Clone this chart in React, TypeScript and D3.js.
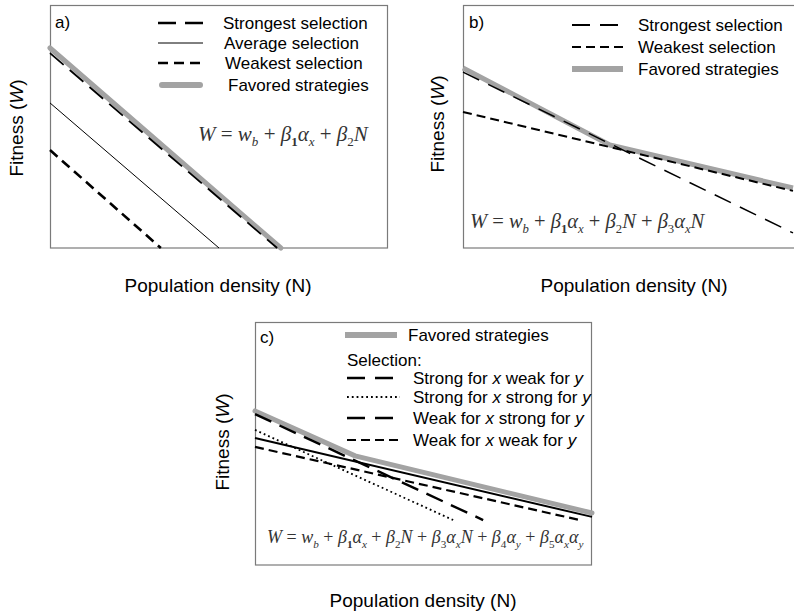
import React from "react";
import * as d3 from "d3";

// ---------- data (normalised units: N 0..100, W 0..100) ----------
const panelANames = ["Strongest selection", "Average selection", "Weakest selection", "Favored strategies"];
const aStrongest: [number, number][] = [[0, 80.2], [67.2, 0]];
const aAverage: [number, number][] = [[0, 59.7], [50, 0]];
const aWeakest: [number, number][] = [[0, 40.3], [32.8, 0]];
const aFavored: [number, number][] = [[0, 82.3], [68.3, 0]];

const panelBNames = ["Strongest selection", "Weakest selection", "Favored strategies"];
const bStrongest: [number, number][] = [[0, 72.4], [100, 6.2]];
const bWeakest: [number, number][] = [[0, 56], [100, 23.5]];
const bFavored: [number, number][] = [[0, 74.1], [44.5, 42.4], [100, 24.7]];

const panelCNames = ["Favored strategies", "Selection:", "Strong for x weak for y", "Strong for x strong for y", "Weak for x strong for y", "Weak for x weak for y"];
const cFavored: [number, number][] = [[0, 63.4], [29.7, 44.9], [100, 21.4]];
const cSolid: [number, number][] = [[0, 52.3], [100, 19.8]];
const cLongDash: [number, number][] = [[0, 62.1], [67.7, 18.5]];
const cDotted: [number, number][] = [[0, 55.6], [58.8, 18.5]];
const cShortDash: [number, number][] = [[0, 48.6], [96.4, 18.5]];

const xLabel = "Population density (N)";

type Tok = { t: string; i?: boolean; sub?: boolean; b?: boolean };
const formulaA: Tok[] = [
  { t: "W", i: true }, { t: " = " }, { t: "w", i: true }, { t: "b", i: true, sub: true }, { t: " + " },
  { t: "β", i: true }, { t: "1", sub: true, b: true }, { t: "α", i: true }, { t: "x", i: true, sub: true }, { t: " + " },
  { t: "β", i: true }, { t: "2", sub: true }, { t: "N", i: true },
];
const formulaB: Tok[] = [
  ...formulaA,
  { t: " + " }, { t: "β", i: true }, { t: "3", sub: true }, { t: "α", i: true }, { t: "x", i: true, sub: true }, { t: "N", i: true },
];
const formulaC: Tok[] = [
  ...formulaB,
  { t: " + " }, { t: "β", i: true }, { t: "4", sub: true }, { t: "α", i: true }, { t: "y", i: true, sub: true },
  { t: " + " }, { t: "β", i: true }, { t: "5", sub: true }, { t: "α", i: true }, { t: "x", i: true, sub: true }, { t: "α", i: true }, { t: "y", i: true, sub: true },
];

const GRAY = "#a3a3a3";
const SANS = "Arial, 'Liberation Sans', Helvetica, sans-serif";
const SERIF = "'Times New Roman', 'Liberation Serif', serif";

function Formula({ x, y, toks, size }: { x: number; y: number; toks: Tok[]; size: number }) {
  let shifted = false;
  const off = size * 0.25;
  return (
    <text x={x} y={y} fontFamily={SERIF} fontSize={size} fill="#333">
      {toks.map((tk, k) => {
        let dy = 0;
        if (tk.sub && !shifted) { dy = off; shifted = true; }
        else if (!tk.sub && shifted) { dy = -off; shifted = false; }
        return (
          <tspan key={k} dy={dy} fontStyle={tk.i ? "italic" : "normal"} fontWeight={tk.b ? "bold" : "normal"}
            fontSize={tk.sub ? size * 0.62 : size} style={{ whiteSpace: "pre" }}>
            {tk.t}
          </tspan>
        );
      })}
    </text>
  );
}

function YLabel({ x, y }: { x: number; y: number }) {
  return (
    <text transform={`translate(${x},${y}) rotate(-90)`} textAnchor="middle" dominantBaseline="central"
      fontFamily={SANS} fontSize={19} fill="#000">
      Fitness (<tspan fontStyle="italic">W</tspan>)
    </text>
  );
}

function XLabel({ x, y }: { x: number; y: number }) {
  return (
    <text x={x} y={y} textAnchor="middle" dominantBaseline="central" fontFamily={SANS} fontSize={19} fill="#000">
      {xLabel}
    </text>
  );
}

function makeLine(x0: number, x1: number, yb: number, yt: number) {
  const xs = d3.scaleLinear().domain([0, 100]).range([x0, x1]);
  const ys = d3.scaleLinear().domain([0, 100]).range([yb, yt]);
  return d3.line<[number, number]>().x((d) => xs(d[0])).y((d) => ys(d[1]));
}

function LegendText({ x, y, children }: { x: number; y: number; children: React.ReactNode }) {
  return (
    <text x={x} y={y} dominantBaseline="central" fontFamily={SANS} fontSize={17} fill="#000" style={{ whiteSpace: "pre" }}>
      {children}
    </text>
  );
}

function italicXY(s: string) {
  const parts = s.split(/( x | y$)/);
  return parts.map((p, k) => {
    if (p === " x ") return <tspan key={k}> <tspan fontStyle="italic">x</tspan> </tspan>;
    if (p === " y") return <tspan key={k}> <tspan fontStyle="italic">y</tspan></tspan>;
    return <tspan key={k}>{p}</tspan>;
  });
}

export default function App() {
  const la = makeLine(50, 388, 248, 5);
  const lb = makeLine(463, 793, 248, 5);
  const lc = makeLine(255, 592, 565, 322);
  const box = "#7a7a7a";

  const longDash = "18,8";
  const shortDash = "10,6";

  return (
    <svg width={794} height={613} style={{ position: "absolute", left: 0, top: 0, background: "#fff" }}>
      <rect x={0} y={0} width={794} height={613} fill="#fff" />

      {/* ---------- Panel a ---------- */}
      <rect x={50.5} y={5.5} width={337} height={242.5} fill="none" stroke={box} strokeWidth={1.2} />
      <path d={la(aWeakest) || ""} fill="none" stroke="#000" strokeWidth={2.6} strokeDasharray={shortDash} />
      <path d={la(aAverage) || ""} fill="none" stroke="#000" strokeWidth={1} />
      <path d={la(aFavored) || ""} fill="none" stroke={GRAY} strokeWidth={5} strokeLinecap="round" />
      <path d={la(aStrongest) || ""} fill="none" stroke="#000" strokeWidth={1.8} strokeDasharray={longDash} />
      <text x={55} y={22} dominantBaseline="central" fontFamily={SANS} fontSize={17}>a)</text>
      <line x1={158} x2={203} y1={23} y2={23} stroke="#000" strokeWidth={2.6} strokeDasharray="18,9" />
      <line x1={158} x2={203} y1={43} y2={43} stroke="#000" strokeWidth={1} />
      <line x1={158} x2={203} y1={63} y2={63} stroke="#000" strokeWidth={2.6} strokeDasharray="10,6" />
      <line x1={162} x2={200} y1={85} y2={85} stroke={GRAY} strokeWidth={6} strokeLinecap="round" />
      <LegendText x={223} y={23}>{panelANames[0]}</LegendText>
      <LegendText x={224} y={43}>{panelANames[1]}</LegendText>
      <LegendText x={225} y={63}>{panelANames[2]}</LegendText>
      <LegendText x={228} y={85}>{panelANames[3]}</LegendText>
      <Formula x={198} y={141} toks={formulaA} size={21} />
      <YLabel x={16} y={128} />
      <XLabel x={218} y={285} />

      {/* ---------- Panel b ---------- */}
      <rect x={463.5} y={5.5} width={340} height={242.5} fill="none" stroke={box} strokeWidth={1.2} />
      <path d={lb(bFavored) || ""} fill="none" stroke={GRAY} strokeWidth={5} strokeLinejoin="round" />
      <path d={lb(bStrongest) || ""} fill="none" stroke="#000" strokeWidth={1.5} strokeDasharray="18,10" />
      <path d={lb(bWeakest) || ""} fill="none" stroke="#000" strokeWidth={2} strokeDasharray="9,5" />
      <text x={469} y={22} dominantBaseline="central" fontFamily={SANS} fontSize={17}>b)</text>
      <line x1={572} x2={618} y1={25} y2={25} stroke="#000" strokeWidth={2} strokeDasharray="18,10" />
      <line x1={572} x2={623} y1={47} y2={47} stroke="#000" strokeWidth={2.2} strokeDasharray="9,5" />
      <line x1={572} x2={623} y1={69} y2={69} stroke={GRAY} strokeWidth={6} />
      <LegendText x={638} y={25}>{panelBNames[0]}</LegendText>
      <LegendText x={638} y={47}>{panelBNames[1]}</LegendText>
      <LegendText x={638} y={69}>{panelBNames[2]}</LegendText>
      <Formula x={470} y={228} toks={formulaB} size={20.5} />
      <YLabel x={437} y={124} />
      <XLabel x={634} y={285} />

      {/* ---------- Panel c ---------- */}
      <rect x={255.5} y={322.5} width={336} height={242.5} fill="none" stroke={box} strokeWidth={1.2} />
      <path d={lc(cFavored) || ""} fill="none" stroke={GRAY} strokeWidth={5} strokeLinejoin="round" strokeLinecap="round" />
      <path d={lc(cSolid) || ""} fill="none" stroke="#000" strokeWidth={2} />
      <path d={lc(cDotted) || ""} fill="none" stroke="#000" strokeWidth={1.8} strokeDasharray="1.8,3" />
      <path d={lc(cShortDash) || ""} fill="none" stroke="#000" strokeWidth={2.2} strokeDasharray="9,5" />
      <path d={lc(cLongDash) || ""} fill="none" stroke="#000" strokeWidth={2.4} strokeDasharray="18,9" />
      <text x={260} y={337} dominantBaseline="central" fontFamily={SANS} fontSize={17}>c)</text>
      <line x1={345} x2={397} y1={335} y2={335} stroke={GRAY} strokeWidth={6} />
      <LegendText x={408} y={335}>{panelCNames[0]}</LegendText>
      <LegendText x={347} y={360}>{panelCNames[1]}</LegendText>
      <line x1={347} x2={393} y1={378} y2={378} stroke="#000" strokeWidth={2.4} strokeDasharray="18,10" />
      <line x1={347} x2={400} y1={397} y2={397} stroke="#000" strokeWidth={1.8} strokeDasharray="1.8,3" />
      <line x1={347} x2={393} y1={418} y2={418} stroke="#000" strokeWidth={2.4} strokeDasharray="18,10" />
      <line x1={347} x2={400} y1={440} y2={440} stroke="#000" strokeWidth={2.2} strokeDasharray="9,5" />
      <LegendText x={413} y={378}>{italicXY(panelCNames[2])}</LegendText>
      <LegendText x={413} y={397}>{italicXY(panelCNames[3])}</LegendText>
      <LegendText x={413} y={418}>{italicXY(panelCNames[4])}</LegendText>
      <LegendText x={413} y={440}>{italicXY(panelCNames[5])}</LegendText>
      <Formula x={267} y={543} toks={formulaC} size={18} />
      <YLabel x={222} y={442} />
      <XLabel x={423} y={600} />
    </svg>
  );
}
